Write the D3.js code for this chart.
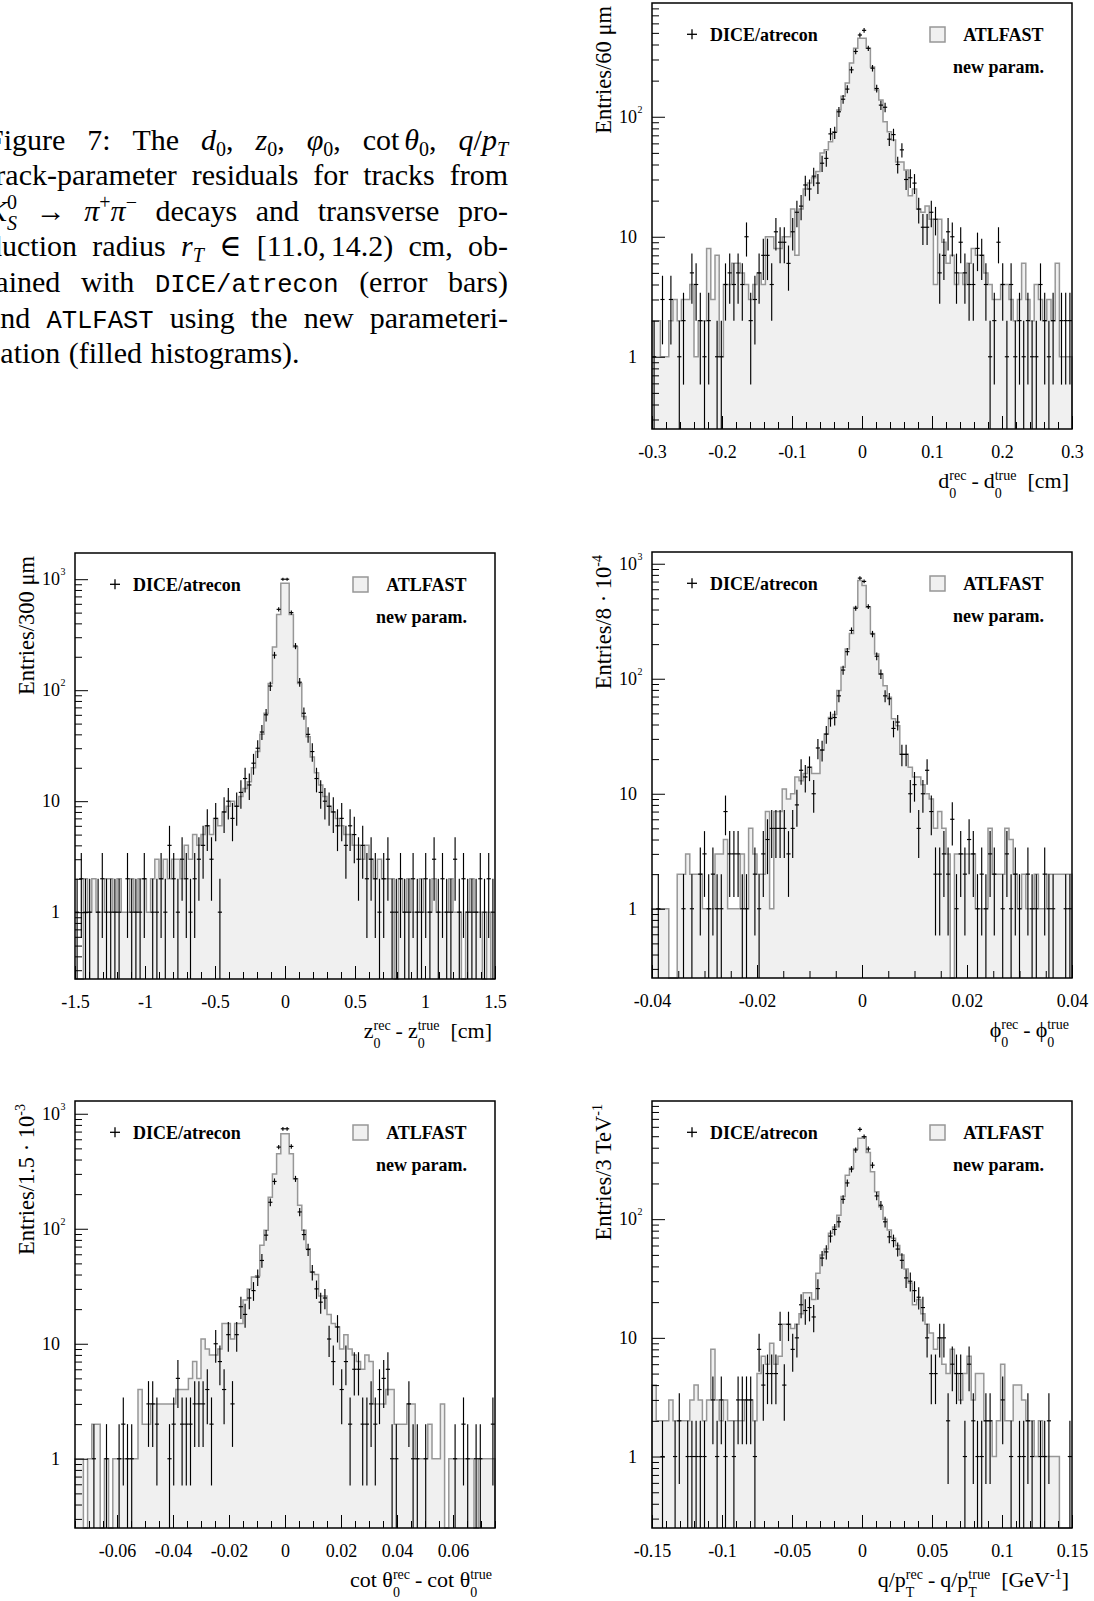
<!DOCTYPE html>
<html>
<head>
<meta charset="utf-8">
<script src="https://d3js.org/d3.v7.min.js"></script>
<style>
  html, body { margin: 0; padding: 0; background: #fff; }
  svg { display: block; }
</style>
</head>
<body>
<svg id="figure" width="1094" height="1601"></svg>
<script>

// ---------------- data (entries per bin, 100 bins per histogram) ----------------

var d0Range = [-0.3, 0.3];
var d0Ticks = [-0.3, -0.2, -0.1, 0, 0.1, 0.2, 0.3];
var d0Atlfast = [
    2, 2, 1, 1, 2, 3, 2, 3, 3, 4,
    1, 2, 2, 8, 3, 7, 1, 4, 4, 6,
    6, 5, 4, 3, 4, 5, 4, 10, 10, 8,
    8, 10, 10, 17, 7, 17, 25, 28, 31, 35,
    50, 53, 62, 75, 114, 148, 191, 280, 372, 450,
    450, 372, 260, 167, 138, 91, 75, 64, 42, 42,
    36, 22, 25, 17, 16, 18, 14, 4, 14, 9,
    6, 7, 4, 5, 4, 6, 8, 7, 7, 5,
    4, 3, 3, 4, 4, 3, 2, 3, 6, 3,
    2, 4, 3, 2, 3, 2, 6, 1, 1, 1
];
var d0Dice = [
    1, 0, 3, 0, 3, 0, 1, 2, 0, 5,
    4, 2, 1, 2, 0, 1, 1, 4, 5, 4,
    5, 4, 10, 2, 3, 5, 7, 7, 4, 11,
    9, 9, 6, 11, 16, 18, 27, 25, 32, 28,
    41, 45, 72, 74, 110, 140, 170, 246, 350, 480,
    525, 372, 254, 172, 125, 120, 65, 71, 40, 53,
    30, 31, 28, 17, 12, 12, 16, 14, 5, 7,
    11, 10, 5, 9, 5, 4, 4, 8, 7, 4,
    1, 2, 9, 4, 1, 4, 1, 2, 1, 2,
    1, 1, 4, 2, 1, 2, 0, 2, 2, 2
];

var z0Range = [-1.5, 1.5];
var z0Ticks = [-1.5, -1, -0.5, 0, 0.5, 1, 1.5];
var z0Atlfast = [
    0, 0, 2, 1, 2, 1, 1, 2, 2, 1,
    2, 1, 1, 2, 1, 2, 2, 1, 2, 3,
    2, 3, 2, 3, 3, 2, 4, 3, 5, 4,
    5, 6, 5, 7, 6, 8, 9, 10, 9, 11,
    13, 15, 20, 28, 40, 62, 115, 245, 480, 920,
    920, 480, 245, 115, 58, 38, 25, 18, 14, 11,
    9, 8, 7, 6, 5, 5, 4, 4, 3, 4,
    3, 2, 3, 2, 2, 2, 0, 2, 1, 2,
    1, 1, 2, 1, 1, 2, 1, 1, 1, 2,
    1, 1, 0, 1, 2, 1, 1, 0, 1, 0
];
var z0Dice = [
    1, 2, 1, 1, 0, 1, 2, 1, 1, 1,
    1, 0, 2, 1, 1, 1, 2, 0, 1, 1,
    2, 1, 4, 2, 1, 3, 2, 1, 2, 3,
    4, 6, 3, 7, 1, 8, 10, 7, 9, 12,
    16, 14, 22, 30, 42, 60, 109, 207, 535, 1000,
    1000, 500, 250, 118, 62, 40, 28, 16, 12, 10,
    9, 8, 6, 7, 4, 6, 5, 3, 4, 2,
    3, 2, 1, 2, 3, 1, 1, 2, 1, 1,
    2, 1, 1, 2, 1, 3, 1, 2, 1, 1,
    3, 1, 2, 1, 1, 1, 2, 1, 2, 1
];

var phi0Range = [-0.04, 0.04];
var phi0Ticks = [-0.04, -0.02, 0, 0.02, 0.04];
var phi0Atlfast = [
    1, 1, 1, 1, 0, 0, 2, 2, 3, 2,
    2, 2, 1, 1, 1, 3, 3, 4, 1, 1,
    1, 3, 1, 5, 3, 2, 2, 7, 1, 7,
    7, 11, 9, 10, 14, 13, 15, 17, 15, 15,
    24, 33, 46, 49, 79, 126, 181, 248, 418, 716,
    646, 418, 248, 164, 110, 87, 69, 45, 39, 22,
    22, 17, 14, 14, 12, 10, 9, 5, 7, 5,
    3, 0, 3, 3, 3, 3, 3, 1, 1, 1,
    5, 2, 2, 2, 5, 4, 2, 1, 2, 1,
    1, 2, 1, 1, 2, 2, 2, 2, 2, 2
];
var phi0Dice = [
    0, 1, 0, 0, 0, 0, 0, 1, 0, 1,
    0, 2, 3, 1, 2, 1, 1, 7, 3, 3,
    3, 1, 1, 0, 2, 1, 3, 4, 5, 5,
    5, 5, 3, 5, 8, 16, 14, 17, 10, 25,
    24, 33, 45, 46, 71, 119, 172, 263, 410, 750,
    702, 424, 245, 157, 110, 71, 67, 37, 42, 22,
    22, 10, 12, 5, 10, 16, 7, 2, 2, 3,
    2, 6, 1, 3, 2, 4, 3, 1, 2, 1,
    3, 2, 0, 1, 3, 1, 2, 1, 0, 2,
    1, 1, 0, 2, 1, 1, 0, 0, 1, 1
];

var cotRange = [-0.075, 0.075];
var cotTicks = [-0.06, -0.04, -0.02, 0, 0.02, 0.04, 0.06];
var cotAtlfast = [
    1, 1, 0, 1, 2, 2, 0, 1, 0, 1,
    1, 1, 1, 1, 1, 4, 2, 2, 3, 3,
    3, 3, 3, 3, 4, 4, 4, 5, 7, 5,
    11, 9, 8, 8, 9, 15, 15, 11, 15, 15,
    24, 30, 38, 39, 72, 97, 188, 300, 450, 670,
    670, 450, 272, 160, 97, 67, 42, 40, 26, 26,
    18, 15, 14, 9, 12, 9, 8, 7, 6, 8,
    7, 3, 3, 3, 4, 4, 2, 2, 2, 3,
    3, 1, 1, 1, 2, 1, 1, 3, 0, 1,
    1, 1, 1, 1, 1, 0, 1, 1, 1, 1
];
var cotDice = [
    0, 0, 0, 0, 1, 0, 0, 1, 0, 0,
    1, 2, 1, 1, 0, 0, 0, 3, 3, 2,
    0, 0, 1, 2, 5, 2, 2, 2, 3, 3,
    3, 4, 2, 10, 7, 4, 12, 3, 12, 21,
    18, 25, 29, 38, 53, 88, 170, 258, 513, 740,
    740, 520, 272, 140, 89, 66, 42, 30, 23, 25,
    11, 7, 14, 4, 7, 2, 6, 6, 2, 2,
    3, 2, 4, 5, 6, 1, 1, 0, 0, 3,
    1, 1, 0, 1, 0, 0, 0, 0, 0, 0,
    1, 0, 2, 1, 0, 1, 1, 0, 0, 2
];

var qptRange = [-0.15, 0.15];
var qptTicks = [-0.15, -0.1, -0.05, 0, 0.05, 0.1, 0.15];
var qptAtlfast = [
    4, 2, 2, 2, 3, 2, 2, 2, 2, 3,
    4, 3, 2, 3, 8, 3, 2, 3, 2, 2,
    2, 2, 3, 3, 2, 5, 7, 6, 9, 6,
    7, 13, 13, 12, 13, 16, 24, 24, 21, 35,
    50, 56, 76, 86, 108, 155, 235, 268, 390, 480,
    495, 365, 251, 170, 127, 100, 81, 69, 60, 50,
    38, 29, 19, 21, 16, 13, 11, 8, 10, 6,
    5, 8, 5, 3, 5, 7, 3, 5, 5, 2,
    2, 1, 2, 6, 2, 2, 4, 4, 3, 2,
    2, 1, 2, 1, 1, 1, 1, 0, 0, 0
];
var qptDice = [
    0, 0, 1, 0, 0, 1, 2, 0, 1, 1,
    1, 1, 1, 0, 3, 1, 3, 1, 0, 1,
    3, 3, 3, 3, 1, 8, 4, 5, 5, 5,
    13, 4, 13, 8, 10, 19, 17, 18, 15, 26,
    47, 53, 72, 82, 95, 147, 202, 264, 383, 571,
    495, 390, 285, 157, 131, 95, 71, 66, 56, 45,
    32, 30, 25, 22, 18, 10, 5, 5, 10, 10,
    2, 6, 5, 5, 1, 6, 2, 1, 1, 2,
    2, 0, 0, 3, 0, 1, 0, 1, 1, 2,
    1, 0, 1, 1, 2, 0, 0, 0, 0, 1
];

var yMajorTicks = [1, 10, 100, 1000];
var legendLabels = ['DICE/atrecon', 'ATLFAST', 'new param.'];

// caption, word by word (runs: t = text, it = italic, tt = typewriter, sub/sup/stack)
var captionLines = [
    [[{t: 'Figure'}], [{t: '7:'}], [{t: 'The'}],
     [{t: 'd', it: 1}, {sub: '0'}, {t: ','}], [{t: 'z', it: 1}, {sub: '0'}, {t: ','}],
     [{t: 'φ', it: 1}, {sub: '0'}, {t: ','}],
     [{t: 'cot'}, {gap: 5}, {t: 'θ', it: 1}, {sub: '0'}, {t: ','}],
     [{t: 'q', it: 1}, {t: '/'}, {t: 'p', it: 1}, {sub: 'T', it: 1}]],
    [[{t: 'track-parameter'}], [{t: 'residuals'}], [{t: 'for'}], [{t: 'tracks'}], [{t: 'from'}]],
    [[{t: 'K', it: 1}, {stack: ['0', 'S'], subIt: 1}], [{t: '→'}],
     [{t: 'π', it: 1}, {sup: '+'}, {t: 'π', it: 1}, {sup: '−'}],
     [{t: 'decays'}], [{t: 'and'}], [{t: 'transverse'}], [{t: 'pro-'}]],
    [[{t: 'duction'}], [{t: 'radius'}], [{t: 'r', it: 1}, {sub: 'T', it: 1}], [{t: '∈'}],
     [{t: '[11.0,'}, {gap: 5}, {t: '14.2)'}], [{t: 'cm,'}], [{t: 'ob-'}]],
    [[{t: 'tained'}], [{t: 'with'}], [{t: 'DICE/atrecon', tt: 1}], [{t: '(error'}], [{t: 'bars)'}]],
    [[{t: 'and'}], [{t: 'ATLFAST', tt: 1}], [{t: 'using'}], [{t: 'the'}], [{t: 'new'}], [{t: 'parameteri-'}]],
    [[{t: 'zation'}], [{t: '(filled'}], [{t: 'histograms).'}]]
];

// ---------------- layout ----------------

var yMin = 0.25;

var panels = [
    {box: [652, 3, 1072, 429], range: d0Range, ticks: d0Ticks, minorStep: 0.02, yMax: 887,
     atlfast: d0Atlfast, dice: d0Dice,
     yTitle: [{t: 'Entries/60 μm'}],
     xTitle: [{t: 'd'}, {stack: ['rec', '0']}, {gap: 5}, {t: '-'}, {gap: 5}, {t: 'd'}, {stack: ['true', '0']}, {gap: 11}, {t: '[cm]'}]},
    {box: [75, 553, 495, 979], range: z0Range, ticks: z0Ticks, minorStep: 0.1, yMax: 1722,
     atlfast: z0Atlfast, dice: z0Dice,
     yTitle: [{t: 'Entries/300 μm'}],
     xTitle: [{t: 'z'}, {stack: ['rec', '0']}, {gap: 5}, {t: '-'}, {gap: 5}, {t: 'z'}, {stack: ['true', '0']}, {gap: 11}, {t: '[cm]'}]},
    {box: [652, 552, 1072, 978], range: phi0Range, ticks: phi0Ticks, minorStep: 0.005, yMax: 1265,
     atlfast: phi0Atlfast, dice: phi0Dice,
     yTitle: [{t: 'Entries/8 · 10'}, {sup: '-4'}],
     xTitle: [{t: 'ϕ'}, {stack: ['rec', '0']}, {gap: 5}, {t: '-'}, {gap: 5}, {t: 'ϕ'}, {stack: ['true', '0']}]},
    {box: [75, 1101, 495, 1528], range: cotRange, ticks: cotTicks, minorStep: 0.005, yMax: 1291,
     atlfast: cotAtlfast, dice: cotDice,
     yTitle: [{t: 'Entries/1.5 · 10'}, {sup: '-3'}],
     xTitle: [{t: 'cot θ'}, {stack: ['rec', '0']}, {gap: 5}, {t: '-'}, {gap: 5}, {t: 'cot θ'}, {stack: ['true', '0']}]},
    {box: [652, 1101, 1072, 1528], range: qptRange, ticks: qptTicks, minorStep: 0.01, yMax: 990,
     atlfast: qptAtlfast, dice: qptDice,
     yTitle: [{t: 'Entries/3 TeV'}, {sup: '-1'}],
     xTitle: [{t: 'q/p'}, {stack: ['rec', 'T']}, {gap: 5}, {t: '-'}, {gap: 5}, {t: 'q/p'}, {stack: ['true', 'T']}, {gap: 11},
              {t: '[GeV'}, {sup: '-1'}, {t: ']'}]}
];

var serif = '"Liberation Serif", "Times New Roman", "DejaVu Serif", serif';
var mono = '"Liberation Mono", "DejaVu Sans Mono", monospace';
var fillGrey = '#f0f0f0';
var lineGrey = '#979797';

var svg = d3.select('#figure');

// ---------------- text helpers ----------------

var putText = function(parent, str, x, y, size, opts) {
    var node = parent.append('text')
        .attr('x', x)
        .attr('y', y)
        .attr('fill', '#000')
        .style('font-family', opts.tt ? mono : serif)
        .style('font-size', size + 'px')
        .style('font-style', opts.it ? 'italic' : 'normal')
        .text(str);
    return node.node().getComputedTextLength();
};

// draws a sequence of runs starting at (0,0) of parent, returns the width
var drawRuns = function(parent, runs, st) {
    var cx = 0;
    runs.forEach(function(r) {
        if (r.gap) {
            cx += r.gap;
        } else if (r.stack) {
            var wUp = putText(parent, r.stack[0], cx, -st.supShift, st.smallSize, {it: r.supIt});
            var wDown = putText(parent, r.stack[1], cx, st.stackSubShift, st.smallSize, {it: r.subIt});
            cx += Math.max(wUp, wDown);
        } else if (r.sup !== undefined) {
            cx += putText(parent, r.sup, cx, -st.supShift, st.smallSize, {it: r.it});
        } else if (r.sub !== undefined) {
            cx += putText(parent, r.sub, cx, st.subShift, st.smallSize, {it: r.it});
        } else {
            cx += putText(parent, r.t, cx, 0, r.tt ? st.monoSize : st.size, {it: r.it, tt: r.tt});
        }
    });
    return cx;
};

// ---------------- caption ----------------

var drawCaption = function() {
    var left = -13, right = 508, firstBaseline = 149.5, lead = 35.6;
    var st = {size: 30, monoSize: 25.5, smallSize: 20, supShift: 11.5, subShift: 6, stackSubShift: 9};

    captionLines.forEach(function(words, li) {
        var line = svg.append('g').attr('class', 'caption-line');
        var groups = [];
        var total = 0;
        words.forEach(function(w) {
            var g = line.append('g');
            var width = drawRuns(g, w, st);
            groups.push({g: g, w: width});
            total += width;
        });
        // justify all lines but the last one
        var justify = li < captionLines.length - 1;
        var gap = justify ? (right - left - total) / (words.length - 1) : st.size * 0.28;
        var cx = left;
        groups.forEach(function(o) {
            o.g.attr('transform', 'translate(' + cx + ',' + (firstBaseline + li * lead) + ')');
            cx += o.w + gap;
        });
    });
};

// ---------------- one histogram panel ----------------

var drawPanel = function(p) {
    var L = p.box[0], T = p.box[1], R = p.box[2], B = p.box[3];
    var g = svg.append('g').attr('class', 'panel');

    var x = d3.scaleLinear().domain(p.range).range([L, R]);
    var y = d3.scaleLog().domain([yMin, p.yMax]).range([B, T]).clamp(true);
    var binWidth = (p.range[1] - p.range[0]) / p.atlfast.length;
    var yOf = function(v) { return v > 0 ? y(v) : B; };

    // ATLFAST: filled step histogram
    var steps = [[p.range[0], 0]];
    p.atlfast.forEach(function(v, i) {
        var lo = p.range[0] + i * binWidth;
        steps.push([lo, v], [lo + binWidth, v]);
    });
    steps.push([p.range[1], 0]);

    g.append('path')
        .datum(steps)
        .attr('fill', fillGrey)
        .attr('d', d3.area().x(function(d) { return x(d[0]); }).y0(B).y1(function(d) { return yOf(d[1]); }));

    g.append('path')
        .datum(steps)
        .attr('fill', 'none')
        .attr('stroke', lineGrey)
        .attr('stroke-width', 1.5)
        .attr('d', d3.line().x(function(d) { return x(d[0]); }).y(function(d) { return yOf(d[1]); }));

    // DICE/atrecon: points with sqrt(N) error bars
    var points = p.dice.map(function(n, i) {
        return {n: n, lo: p.range[0] + i * binWidth};
    }).filter(function(d) { return d.n > 0; });

    var marks = g.append('g').attr('stroke', '#000').attr('stroke-width', 1.15);

    marks.selectAll(null)
        .data(points).enter()
        .append('line')
        .attr('x1', function(d) { return x(d.lo + binWidth / 2); })
        .attr('x2', function(d) { return x(d.lo + binWidth / 2); })
        .attr('y1', function(d) { return yOf(d.n - Math.sqrt(d.n)); })
        .attr('y2', function(d) { return y(d.n + Math.sqrt(d.n)); });

    marks.selectAll(null)
        .data(points).enter()
        .append('line')
        .attr('x1', function(d) { return x(d.lo); })
        .attr('x2', function(d) { return x(d.lo + binWidth); })
        .attr('y1', function(d) { return y(d.n); })
        .attr('y2', function(d) { return y(d.n); });

    // frame
    g.append('rect')
        .attr('x', L).attr('y', T)
        .attr('width', R - L).attr('height', B - T)
        .attr('fill', 'none')
        .attr('stroke', '#000')
        .attr('stroke-width', 1.5);

    // x axis, ticks pointing inwards
    var nMinor = Math.round((p.range[1] - p.range[0]) / p.minorStep);
    var xMinorVals = d3.range(nMinor + 1).map(function(i) { return p.range[0] + i * p.minorStep; });

    var xMinor = g.append('g')
        .attr('transform', 'translate(0,' + B + ')')
        .call(d3.axisBottom(x).tickValues(xMinorVals).tickSize(-7).tickFormat(''));
    var xMajor = g.append('g')
        .attr('transform', 'translate(0,' + B + ')')
        .call(d3.axisBottom(x).tickValues(p.ticks).tickSize(-13).tickPadding(16.5)
            .tickFormat(function(d) { return String(d); }));
    xMinor.select('.domain').remove();
    xMajor.select('.domain').remove();
    xMajor.selectAll('text')
        .style('font-family', serif)
        .style('font-size', '18px')
        .attr('fill', '#000');

    // log y axis
    var yMajorVals = yMajorTicks.filter(function(v) { return v >= yMin && v <= p.yMax; });
    var yMinorVals = [];
    [0.1, 1, 10, 100, 1000].forEach(function(dec) {
        for (var m = 2; m <= 9; m++) {
            if (m * dec >= yMin && m * dec <= p.yMax) { yMinorVals.push(m * dec); }
        }
    });

    var yMinor = g.append('g')
        .attr('transform', 'translate(' + L + ',0)')
        .call(d3.axisLeft(y).tickValues(yMinorVals).tickSize(-7).tickFormat(''));
    var yMajor = g.append('g')
        .attr('transform', 'translate(' + L + ',0)')
        .call(d3.axisLeft(y).tickValues(yMajorVals).tickSize(-13).tickPadding(15)
            .tickFormat(function(d) { return d < 100 ? String(d) : '10'; }));
    yMinor.select('.domain').remove();
    yMajor.select('.domain').remove();
    yMajor.selectAll('text')
        .style('font-family', serif)
        .style('font-size', '18px')
        .attr('fill', '#000');

    // exponent for 10^2, 10^3
    yMajor.selectAll('.tick').each(function(d) {
        if (d < 100) { return; }
        d3.select(this).append('text')
            .attr('x', -14.5)
            .attr('y', -4.5)
            .attr('fill', '#000')
            .attr('text-anchor', 'start')
            .style('font-family', serif)
            .style('font-size', '10px')
            .text(String(Math.round(Math.log10(d))));
    });

    // axis titles
    var titleStyle = {size: 22, smallSize: 14, supShift: 8.5, subShift: 9.5, stackSubShift: 9.5};

    var xt = g.append('g');
    var xtWidth = drawRuns(xt, p.xTitle, titleStyle);
    xt.attr('transform', 'translate(' + (R - 3 - xtWidth) + ',' + (B + 59) + ')');

    var ytOuter = g.append('g')
        .attr('transform', 'translate(' + (L - 41.5) + ',' + (T + 3) + ') rotate(-90)');
    var yt = ytOuter.append('g');
    var ytWidth = drawRuns(yt, p.yTitle, {size: 22.5, smallSize: 14, supShift: 9, subShift: 6, stackSubShift: 6});
    yt.attr('transform', 'translate(' + (-ytWidth) + ',0)');

    // legend
    var leg = g.append('g').attr('transform', 'translate(' + L + ',' + T + ')');
    leg.append('line')
        .attr('x1', 35).attr('x2', 45).attr('y1', 31.3).attr('y2', 31.3)
        .attr('stroke', '#000').attr('stroke-width', 1.3);
    leg.append('line')
        .attr('x1', 40).attr('x2', 40).attr('y1', 26.3).attr('y2', 36.3)
        .attr('stroke', '#000').attr('stroke-width', 1.3);
    leg.append('text')
        .attr('x', 58).attr('y', 38)
        .style('font-family', serif).style('font-size', '18px').style('font-weight', 'bold')
        .text(legendLabels[0]);
    leg.append('rect')
        .attr('x', 278).attr('y', 24).attr('width', 15).attr('height', 15)
        .attr('fill', fillGrey).attr('stroke', lineGrey).attr('stroke-width', 1.5);
    leg.append('text')
        .attr('x', 391.5).attr('y', 38).attr('text-anchor', 'end')
        .style('font-family', serif).style('font-size', '18px').style('font-weight', 'bold')
        .text(legendLabels[1]);
    leg.append('text')
        .attr('x', 392).attr('y', 70).attr('text-anchor', 'end')
        .style('font-family', serif).style('font-size', '18px').style('font-weight', 'bold')
        .text(legendLabels[2]);
};

drawCaption();
panels.forEach(drawPanel);

</script>
</body>
</html>
